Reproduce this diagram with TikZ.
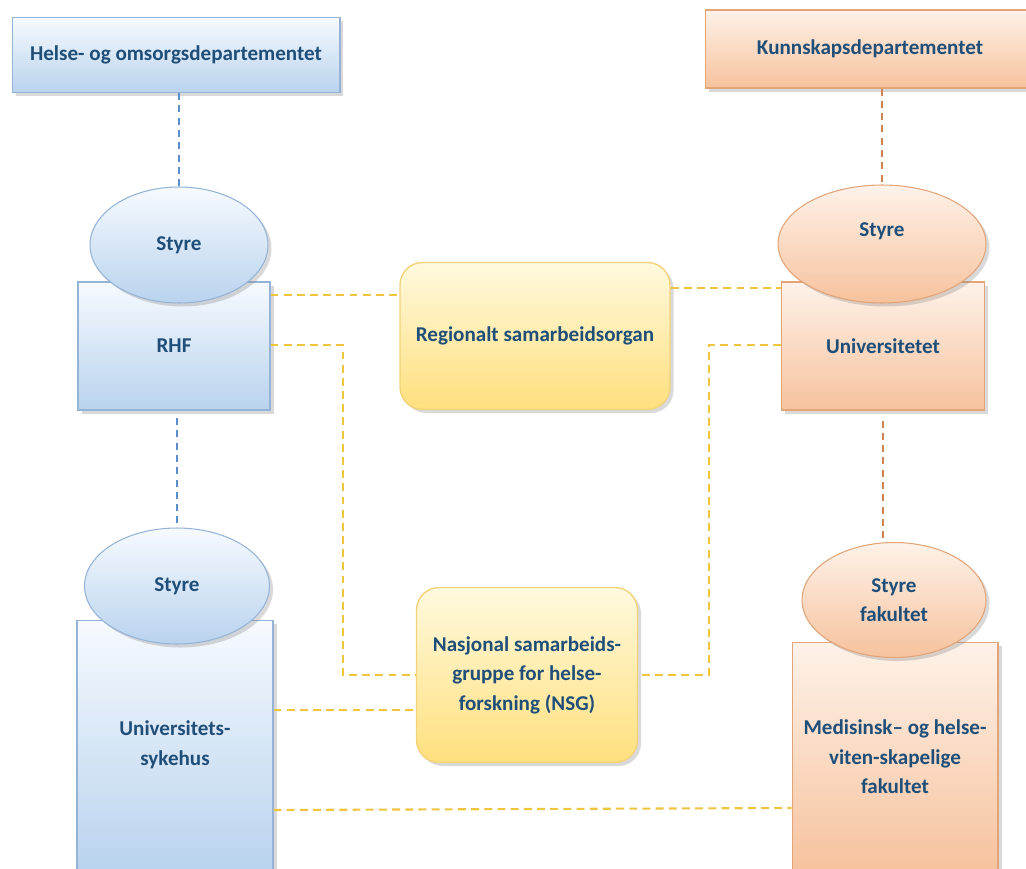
\documentclass[tikz,border=0pt]{standalone}
\usepackage{fontspec}
\setmainfont{Carlito}
\usetikzlibrary{shapes.geometric,shadows}

\definecolor{txtblue}{HTML}{1F4E79}
\definecolor{blueedge}{HTML}{95B3D7}
\definecolor{bluetop}{HTML}{F6FAFE}
\definecolor{bluebot}{HTML}{B9D3EE}
\definecolor{orangeedge}{HTML}{E3A477}
\definecolor{orangetop}{HTML}{FEF2E9}
\definecolor{orangebot}{HTML}{F6C29D}
\definecolor{yellowedge}{HTML}{F2D27A}
\definecolor{yellowtop}{HTML}{FFF9DE}
\definecolor{yellowbot}{HTML}{FFE07E}
\definecolor{blueline}{HTML}{5B8FC9}
\definecolor{orangeline}{HTML}{D08550}
\definecolor{yellowline}{HTML}{EFC53F}

\begin{document}
\begin{tikzpicture}[x=0.02cm, y=-0.02cm,
	every node/.style={font=\fontsize{12}{16.8}\selectfont\bfseries, text=txtblue, align=center},
	shade/.style={drop shadow={opacity=0.3, shadow xshift=2pt, shadow yshift=-2pt}},
	bluebox/.style={shade, draw=blueedge, semithick, top color=bluetop, bottom color=bluebot},
	orangebox/.style={shade, draw=orangeedge, semithick, top color=orangetop, bottom color=orangebot},
	yellowbox/.style={shade, draw=yellowedge, thick, top color=yellowtop, bottom color=yellowbot, rounded corners=0.45cm},
	blueell/.style={bluebox, ellipse},
	orangeell/.style={orangebox, ellipse},
	bluedash/.style={blueline, thick, dash pattern=on 4pt off 3pt},
	orangedash/.style={orangeline, thick, dash pattern=on 4pt off 3pt},
	yellowdash/.style={yellowline, line width=1.2pt, dash pattern=on 4.5pt off 3pt}]
	\useasboundingbox (0,0) rectangle (1026,868);
	\clip (0,0) rectangle (1026,868);

	% left column
	\node[bluebox, minimum width=6.56cm, minimum height=1.5cm] (hod) at (176,55) {Helse- og omsorgsdepartementet};
	\node[bluebox, minimum width=3.84cm, minimum height=2.56cm] (rhf) at (174,346) {RHF};
	\node[blueell, minimum width=3.56cm, minimum height=2.32cm] (styreA) at (179,245) {Styre};
	\node[bluebox, minimum width=3.92cm, minimum height=5cm] (sykehus) at (175,745) {Universitets-\\sykehus};
	\node[blueell, minimum width=3.7cm, minimum height=2.32cm] (styreB) at (177,586) {Styre};

	% right column
	\node[orangebox, minimum width=6.6cm, minimum height=1.56cm] (kd) at (870,49) {Kunnskapsdepartementet};
	\node[orangebox, minimum width=4.06cm, minimum height=2.56cm] (uni) at (883,346) {Universitetet};
	\node[orangeell, minimum width=4.16cm, minimum height=2.36cm] (styreU) at (882,244) {};
	\node (styreUtxt) at (882,231) {Styre};
	\node[orangebox, minimum width=4.12cm, minimum height=4.6cm] (fak) at (895,757) {Medisinsk– og helse-\\viten-skapelige\\fakultet};
	\node[orangeell, minimum width=3.68cm, minimum height=2.3cm] (styreF) at (894,600) {Styre\\fakultet};

	% middle
	\node[yellowbox, minimum width=5.4cm, minimum height=2.94cm] (rso) at (535,336) {Regionalt samarbeidsorgan};
	\node[yellowbox, minimum width=4.42cm, minimum height=3.5cm] (nsg) at (527,675) {Nasjonal samarbeids-\\gruppe for helse-\\forskning (NSG)};

	% lines
	\draw[bluedash] (hod.south -| styreA.north) -- (styreA.north);
	\draw[bluedash] ([yshift=-0.15cm]rhf.south -| styreB.north) -- (styreB.north);
	\draw[orangedash] (kd.south -| styreU.north) -- (styreU.north);
	\draw[orangedash] ([yshift=-0.2cm]uni.south) -- (uni.south |- styreF.north);

	\draw[yellowdash] (rhf.east |- 0,295) -- (rso.west |- 0,295);
	\draw[yellowdash] (rso.east |- 0,288) -- (uni.west |- 0,288);
	\draw[yellowdash] (rhf.east |- 0,345) -| (343,675) -- (nsg.west |- 0,675);
	\draw[yellowdash] (uni.west |- 0,345) -| (709,675) -- (nsg.east |- 0,675);
	\draw[yellowdash] (sykehus.east |- 0,710) -- (nsg.west |- 0,710);
	\draw[yellowdash] (sykehus.east |- 0,810) -- (fak.west |- 0,808);
\end{tikzpicture}
\end{document}
